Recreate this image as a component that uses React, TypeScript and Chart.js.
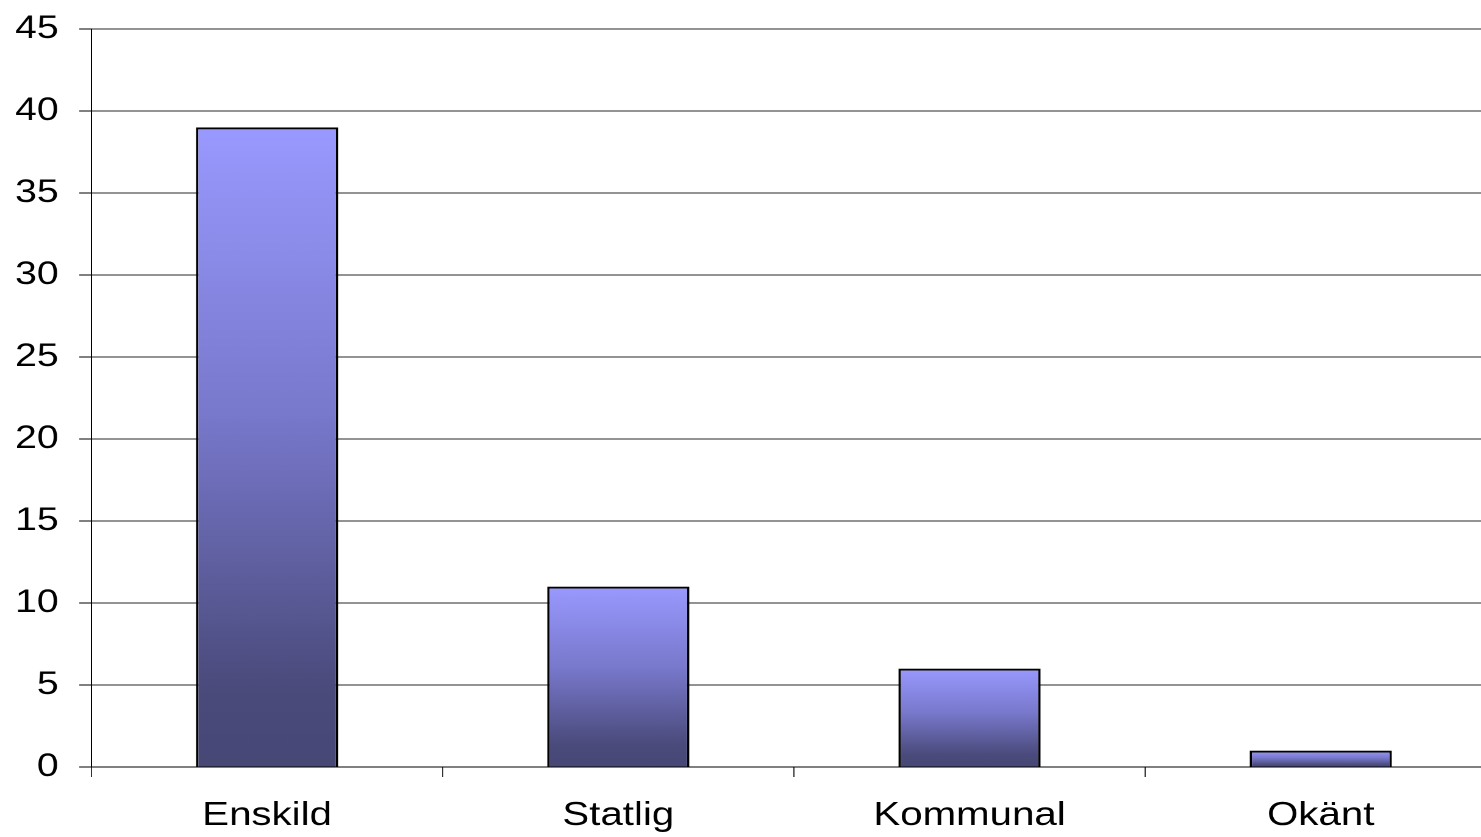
import React, { useEffect, useRef } from 'react';
import { Chart, registerables } from 'chart.js';

Chart.register(...registerables);

const categories: string[] = ['Enskild', 'Statlig', 'Kommunal', 'Okänt'];
const values: number[] = [39, 11, 6, 1];
const yMin = 0;
const yMax = 45;
const yStep = 5;

const FONT = '"Liberation Sans", Arial, Helvetica, sans-serif';

export default function App() {
  const ref = useRef<HTMLCanvasElement | null>(null);

  useEffect(() => {
    document.body.style.margin = '0';
    document.body.style.overflow = 'hidden';
    const canvas = ref.current;
    if (!canvas) return;
    const chart = new Chart(canvas, {
      type: 'bar',
      data: {
        labels: categories,
        datasets: [
          {
            data: values,
            borderColor: '#000000',
            borderWidth: 2,
            barPercentage: 0.405,
            categoryPercentage: 1,
            backgroundColor: (c: any) => {
              const ch = c.chart;
              const ys = ch.scales && ch.scales.y;
              if (!ys || c.raw == null) return '#9999ff';
              const top = ys.getPixelForValue(c.raw as number);
              const bottom = ys.getPixelForValue(0);
              if (!isFinite(top) || !isFinite(bottom) || top === bottom) return '#9999ff';
              const g = ch.ctx.createLinearGradient(0, top, 0, bottom);
              g.addColorStop(0, '#9999ff');
              g.addColorStop(0.45, '#7878cc');
              g.addColorStop(0.88, '#4a4a7b');
              g.addColorStop(1, '#484877');
              return g;
            },
          },
        ],
      },
      options: {
        responsive: false,
        animation: false,
        devicePixelRatio: 2,
        layout: { padding: { top: 29, right: 3, left: 0, bottom: 0 } },
        plugins: {
          legend: { display: false },
          tooltip: { enabled: false },
        },
        scales: {
          x: {
            offset: true,
            grid: {
              offset: true,
              drawOnChartArea: false,
              drawTicks: true,
              tickLength: 10,
              color: '#333333',
              tickColor: '#333333',
            },
            border: { color: '#000000', width: 1 },
            ticks: {
              font: { family: FONT, size: 33 },
              color: '#000000',
              padding: 19,
              maxRotation: 0,
              autoSkip: false,
            },
            afterFit: (s: any) => {
              s.height = 70;
              s.paddingLeft = 0;
              s.paddingRight = 0;
            },
          },
          y: {
            min: yMin,
            max: yMax,
            ticks: {
              stepSize: yStep,
              font: { family: FONT, size: 32 },
              color: '#000000',
              padding: 17,
            },
            grid: {
              color: '#262626',
              tickColor: '#000000',
              tickLength: 10,
              lineWidth: 1,
            },
            border: { color: '#000000', width: 1 },
            afterFit: (s: any) => {
              s.width = 75;
              s.paddingTop = 0;
              s.paddingBottom = 0;
            },
          },
        },
      },
    });
    return () => {
      chart.destroy();
    };
  }, []);

  return (
    <div
      style={{
        position: 'fixed',
        left: 0,
        top: 0,
        width: 1481,
        height: 837,
        overflow: 'hidden',
        background: '#ffffff',
      }}
    >
      <canvas
        ref={ref}
        width={1230}
        height={837}
        style={{ width: '1500px', height: '837px', display: 'block' }}
      />
    </div>
  );
}
